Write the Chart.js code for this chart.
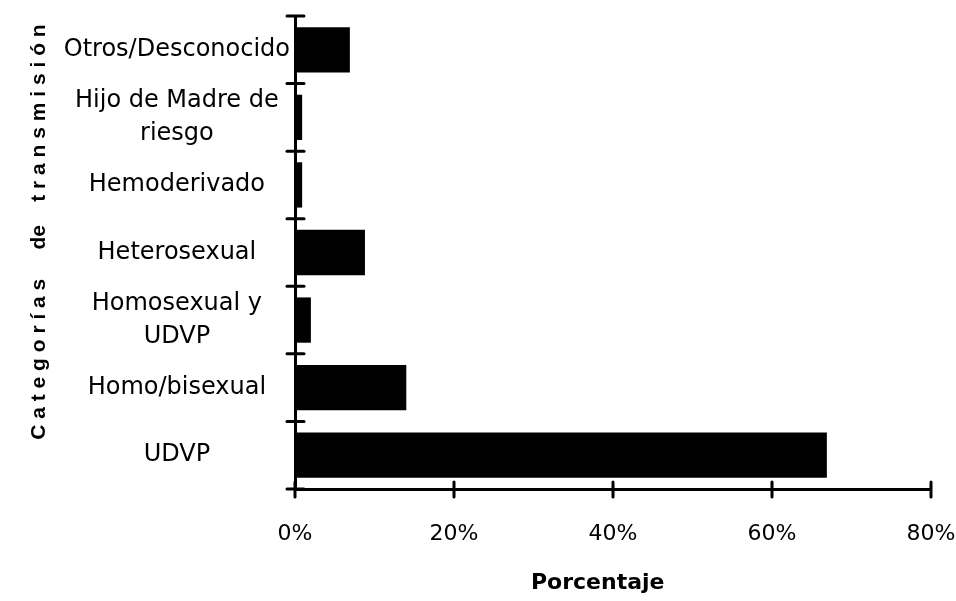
<!DOCTYPE html>
<html>
<head>
<meta charset="utf-8">
<script src="https://cdn.jsdelivr.net/npm/chart.js@4"></script>
<style>
    html, body { margin: 0; padding: 0; background: #fff; }
    #wrap { width: 956px; height: 601px; }
</style>
</head>
<body>
<div id="wrap"><canvas id="chart" width="956" height="601"></canvas></div>
<script>
// categories, top to bottom as in the picture
const categories = [
    "Otros/Desconocido",
    ["Hijo de Madre de", "riesgo"],
    "Hemoderivado",
    "Heterosexual",
    ["Homosexual y", "UDVP"],
    "Homo/bisexual",
    "UDVP"
];
// percentage of cases per category
const percentages = [6.9, 0.9, 0.9, 8.8, 2.0, 14.0, 66.9];
// x axis ticks
const xTicks = [0, 20, 40, 60, 80];

const yTitle = "       C a t e g o r í a s     de    t r a n s m i s i ó n";
const xTitle = "Porcentaje    ";

// draws the little crossing marks on both axes
const axisMarks = {
    id: "axisMarks",
    afterDraw(chart) {
        const { ctx, chartArea, scales: { x, y } } = chart;
        ctx.save();
        ctx.strokeStyle = "#000";
        ctx.lineWidth = 3;
        ctx.lineCap = "round";
        xTicks.forEach(v => {
            const px = x.getPixelForValue(v);
            ctx.beginPath();
            ctx.moveTo(px, chartArea.bottom - 7);
            ctx.lineTo(px, chartArea.bottom + 8);
            ctx.stroke();
        });
        for (let i = 0; i <= categories.length; i++) {
            const py = y.getPixelForValue(i - 0.5);
            ctx.beginPath();
            ctx.moveTo(chartArea.left - 8, py);
            ctx.lineTo(chartArea.left + 9, py);
            ctx.stroke();
        }
        ctx.restore();
    }
};

new Chart(document.getElementById("chart"), {
    type: "bar",
    data: {
        labels: categories,
        datasets: [{
            data: percentages,
            backgroundColor: "#000",
            borderWidth: 0,
            categoryPercentage: 1,
            barPercentage: 0.67
        }]
    },
    options: {
        indexAxis: "y",
        responsive: false,
        animation: false,
        layout: { padding: { top: 16, right: 25, left: 0, bottom: 0 } },
        plugins: {
            legend: { display: false },
            tooltip: { enabled: false }
        },
        scales: {
            x: {
                min: 0,
                max: 80,
                afterFit: s => {
                    s.height = 112;
                    s.paddingLeft = 0;
                    s.paddingRight = 0;
                },
                afterBuildTicks: s => { s.ticks = xTicks.map(v => ({ value: v })); },
                grid: { display: false, drawTicks: false },
                border: { color: "#000", width: 3 },
                ticks: {
                    color: "#000",
                    padding: 32,
                    maxRotation: 0,
                    font: { family: "DejaVu Sans", size: 22 },
                    callback: v => v + "%"
                },
                title: {
                    display: true,
                    text: xTitle,
                    color: "#000",
                    padding: { top: 0, bottom: 5 },
                    font: { family: "DejaVu Sans", size: 22, weight: "bold" }
                }
            },
            y: {
                afterFit: s => {
                    s.width = 295;
                    s.paddingTop = 0;
                    s.paddingBottom = 0;
                },
                grid: { display: false, drawTicks: false, offset: true },
                border: { color: "#000", width: 3 },
                ticks: {
                    color: "#000",
                    padding: 5,
                    autoSkip: false,
                    crossAlign: "center",
                    font: { family: "DejaVu Sans", size: 24, lineHeight: 1.4 }
                },
                title: {
                    display: true,
                    text: yTitle,
                    color: "#000",
                    padding: { top: 27, bottom: 0 },
                    font: { family: "Liberation Sans", size: 21, weight: "bold" }
                }
            }
        }
    },
    plugins: [axisMarks]
});
</script>
</body>
</html>
